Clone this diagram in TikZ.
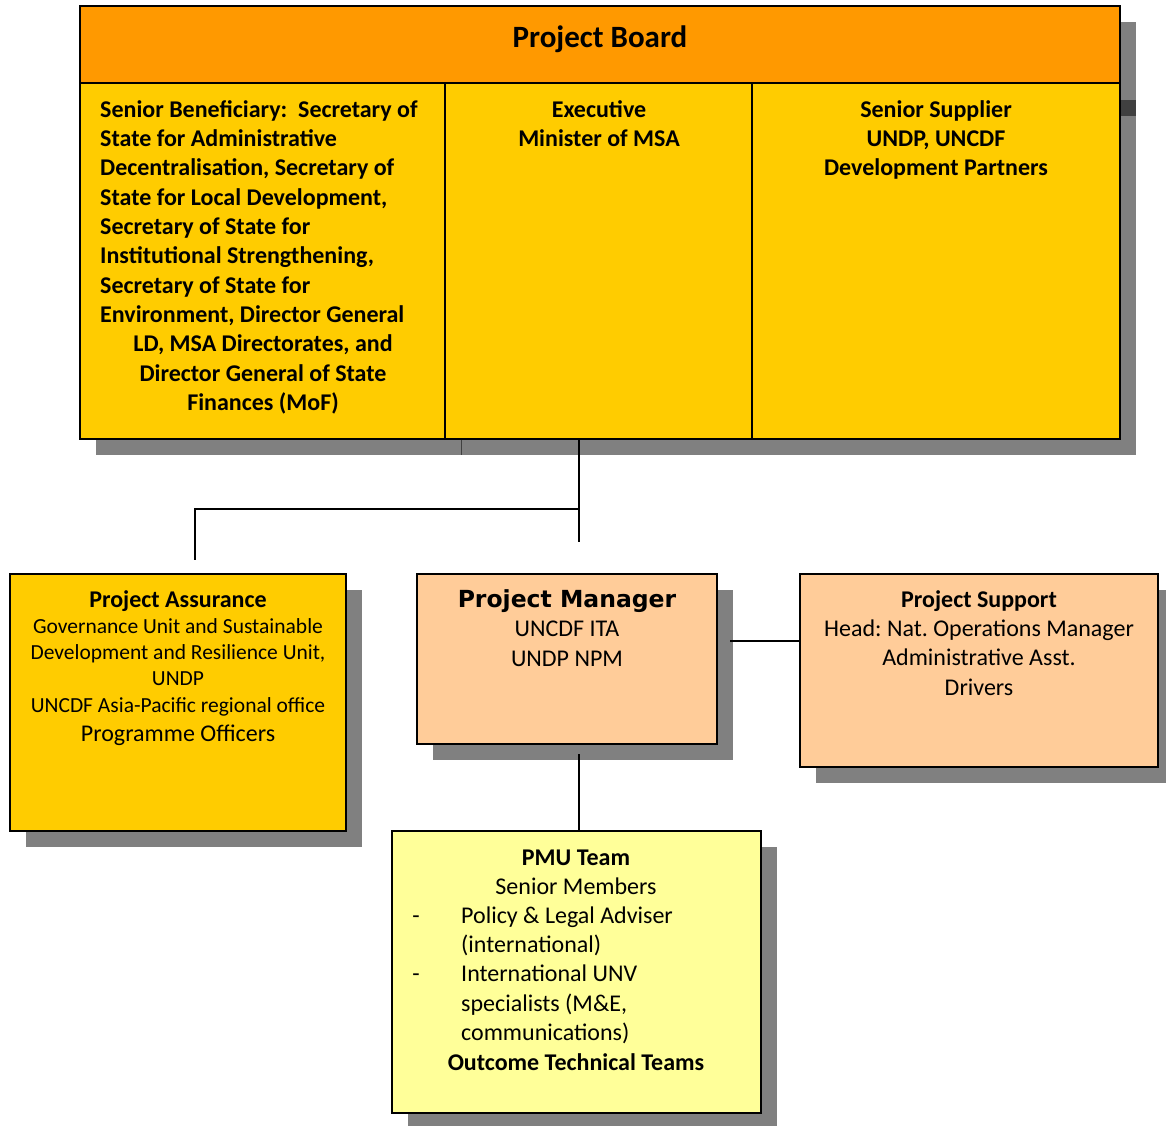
\documentclass[tikz,border=0pt]{standalone}
\usepackage{fontspec}
\setmainfont{Carlito}
\newfontfamily\verd{DejaVu Sans}
\frenchspacing
\definecolor{orangeH}{HTML}{FF9900}
\definecolor{yel}{HTML}{FFCC00}
\definecolor{peach}{HTML}{FFCC99}
\definecolor{lyel}{HTML}{FFFF99}
\definecolor{shd}{HTML}{808080}
\definecolor{dshd}{HTML}{404040}
\begin{document}
\begin{tikzpicture}[x=1pt,y=-1pt,
  boxs/.style={draw=black, line width=2pt, anchor=north west, inner sep=0pt, outer sep=0pt},
  txt/.style={inner sep=0pt, anchor=north, align=center, font=\fontsize{24}{29.3}\selectfont},
  btxt/.style={txt, font=\bfseries\fontsize{24}{29.3}\selectfont},
  stxt/.style={txt, font=\fontsize{21.5}{26.3}\selectfont},
  conn/.style={draw=black, line width=2pt}]
\useasboundingbox (0,0) rectangle (1166,1126);
% shadows
\fill[shd] (96,22) rectangle (1136,455);
\fill[dshd] (1120,100) rectangle (1136,116);
\draw[dshd, line width=1pt] (461,439) -- (461,455);
\fill[shd] (26,590) rectangle (362,847);
\fill[shd] (433,590) rectangle (733,760);
\fill[shd] (816,590) rectangle (1166,783);
\fill[shd] (408,847) rectangle (777,1126);
% project board
\node[boxs, fill=yel, minimum width=1040pt, minimum height=433pt] (board) at (80,6) {};
\node[boxs, fill=orangeH, minimum width=1040pt, minimum height=77pt] (hdr) at (80,6) {};
\draw[line width=2pt] (445,83) -- (445,439);
\draw[line width=2pt] (752,83) -- (752,439);
\node[font=\bfseries\fontsize{31}{34}\selectfont, inner sep=0pt, anchor=base] (pbt) at (600,47.5) {Project Board};
\node[btxt, anchor=north west, align=left] (sb1) at (100,96.5) {\strut Senior Beneficiary:\ \ Secretary of\\State for Administrative\\Decentralisation, Secretary of\\State for Local Development,\\Secretary of State for\\Institutional Strengthening,\\Secretary of State for\\Environment, Director General};
\node[btxt] (sb2) at (263,331) {\strut LD, MSA Directorates, and\\Director General of State\\Finances (MoF)};
\node[btxt] (ex) at (599,96.5) {\strut Executive\\Minister of MSA};
\node[btxt] (ss) at (936,96.5) {\strut Senior Supplier\\UNDP, UNCDF\\Development Partners};
% lower boxes
\node[boxs, fill=yel, minimum width=336pt, minimum height=257pt] (pa) at (10,574) {};
\node[btxt, anchor=base] (pat) at (178,607) {Project Assurance};
\node[stxt] (pab) at (178,614.6) {\strut Governance Unit and Sustainable\\Development and Resilience Unit,\\UNDP\\UNCDF Asia-Pacific regional office};
\node[txt, anchor=base] (pao) at (178,741) {Programme Officers};
\node[boxs, fill=peach, minimum width=300pt, minimum height=170pt] (pm) at (417,574) {};
\node[inner sep=0pt, anchor=base, font=\verd\bfseries\fontsize{23.5}{28}\selectfont] (pmt) at (567,607) {Project Manager};
\node[txt] (pmb) at (567,616) {\strut UNCDF ITA\\UNDP NPM};
\node[boxs, fill=peach, minimum width=358pt, minimum height=193pt] (ps) at (800,574) {};
\node[txt] (pst) at (979,586.5) {\strut\textbf{Project Support}\\Head: Nat. Operations Manager\\Administrative Asst.\\Drivers};
\node[boxs, fill=lyel, minimum width=369pt, minimum height=282pt] (pmu) at (392,831) {};
\node[txt] (pmut) at (576,844.5) {\strut\textbf{PMU Team}\\Senior Members};
\node[txt, anchor=north west, align=left] (pmul) at (461,902.5) {\strut Policy \& Legal Adviser\\(international)\\International UNV\\specialists (M\&E,\\communications)};
\node[txt, anchor=base] (d1) at (416,923) {-};
\node[txt, anchor=base] (d2) at (416,981.6) {-};
\node[btxt, anchor=base] (pmuo) at (576,1070) {Outcome Technical Teams};
% connectors
\coordinate (bt) at (579,439);
\coordinate (pmtop) at (579,542);
\coordinate (jn) at (579,509);
\coordinate (patop) at (195,560);
\coordinate (pmbot) at (579,754);
\coordinate (pmr) at (730,641);
\draw[conn] (bt) -- (pmtop);
\draw[conn] (jn) -| (patop);
\draw[conn] (pmbot) -- (pmu.north -| pmbot);
\draw[conn] (pmr) -- (ps.west |- pmr);
\end{tikzpicture}
\end{document}
